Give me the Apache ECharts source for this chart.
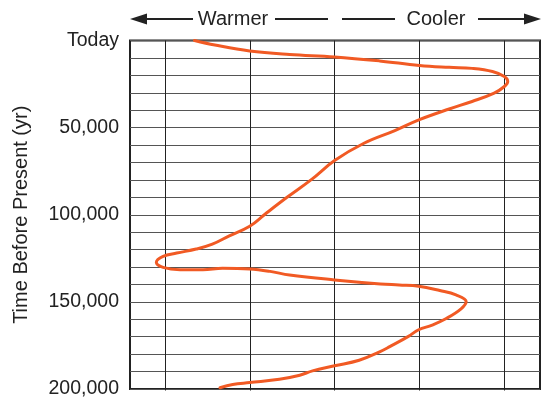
<!DOCTYPE html>
<html>
<head>
<meta charset="utf-8">
<script src="https://cdn.jsdelivr.net/npm/echarts@6/dist/echarts.min.js"></script>
<style>
html,body{margin:0;padding:0;background:#fff;}
#chart{width:543px;height:399px;}
</style>
</head>
<body>
<div id="chart"></div>
<script>
// Relative temperature (grid columns, warmer -> cooler) vs. time before present (yr)
var temperature = [0.35,0.59,1.0,1.47,2.0,2.53,3.0,3.35,3.62,3.86,4.0,4.04,4.0,3.88,3.62,3.35,3.0,2.71,2.34,2.0,1.73,1.44,1.18,1.0,0.76,0.56,0.37,0.14,-0.02,-0.10,-0.02,0.18,0.45,0.68,1.0,1.24,1.47,2.0,2.54,2.76,2.99,3.24,3.43,3.55,3.49,3.31,3.15,2.99,2.87,2.65,2.53,2.29,2.0,1.74,1.59,1.35,1.0,0.8,0.65];
var yearsBP = [0,2600,6000,8000,9400,11700,14300,15400,16000,17800,20700,23500,26400,30200,35000,39300,45400,51700,59100,68900,79700,90000,99700,106600,112100,116900,119700,122000,123900,127300,130200,131500,131500,130700,131100,132500,134600,137400,139700,140300,141000,143500,146000,149800,154000,159700,163300,166000,169800,175700,178700,183500,186700,189600,192100,194400,196300,197400,199300];
var tickValues = [0, 50000, 100000, 150000, 200000];
var tickLabels = ['Today', '50,000', '100,000', '150,000', '200,000'];
var axisTitle = 'Time Before Present (yr)';
var leftLabel = 'Warmer';
var rightLabel = 'Cooler';

var points = temperature.map(function (t, i) { return [t, yearsBP[i]]; });
var chart = echarts.init(document.getElementById('chart'));
var ink = '#222';
var font = 'Liberation Sans, Arial, Helvetica, sans-serif';
chart.setOption({
  animation: false,
  grid: [
    { left: 130, top: 40.5, right: 3, bottom: 8.5, show: true, borderColor: ink, borderWidth: 2, backgroundColor: 'transparent' },
    { left: 165, top: 40.5, right: 39, bottom: 8.5, show: false }
  ],
  xAxis: [
    {
      gridIndex: 0, type: 'value', min: -0.41, max: 4.42,
      axisLabel: { show: false }, axisTick: { show: false }, axisLine: { show: false },
      splitLine: { show: false }
    },
    {
      gridIndex: 1, type: 'value', min: 0, max: 4, interval: 1,
      axisLabel: { show: false }, axisTick: { show: false }, axisLine: { show: false },
      splitLine: { show: true, lineStyle: { color: ink, width: 1 } }
    }
  ],
  yAxis: [
    {
      gridIndex: 0, type: 'value', inverse: true, min: 0, max: 200000, interval: 10000,
      axisLine: { show: false }, axisTick: { show: false },
      splitLine: { show: true, lineStyle: { color: '#555', width: 1 } },
      axisLabel: {
        color: ink, fontFamily: font, fontSize: 19.5, margin: 11,
        formatter: function (v) { var i = tickValues.indexOf(v); return i >= 0 ? tickLabels[i] : ''; }
      },
      name: axisTitle, nameLocation: 'middle', nameRotate: 90, nameGap: 99,
      nameTextStyle: { color: ink, fontFamily: font, fontSize: 20 }
    },
    {
      gridIndex: 1, type: 'value', min: 0, max: 1, show: false, splitLine: { show: false }
    }
  ],
  graphic: [
    { type: 'polygon', shape: { points: [[130,19],[147,13.5],[147,24.5]] }, style: { fill: ink } },
    { type: 'line', shape: { x1: 145, y1: 19, x2: 193, y2: 19 }, style: { stroke: ink, lineWidth: 2 } },
    { type: 'text', x: 233, y: 19, style: { text: leftLabel, fill: ink, font: '20px ' + font, textAlign: 'center', textVerticalAlign: 'middle' } },
    { type: 'line', shape: { x1: 275, y1: 19, x2: 328, y2: 19 }, style: { stroke: ink, lineWidth: 2 } },
    { type: 'line', shape: { x1: 342, y1: 19, x2: 395, y2: 19 }, style: { stroke: ink, lineWidth: 2 } },
    { type: 'text', x: 436, y: 19, style: { text: rightLabel, fill: ink, font: '20px ' + font, textAlign: 'center', textVerticalAlign: 'middle' } },
    { type: 'line', shape: { x1: 478, y1: 19, x2: 526, y2: 19 }, style: { stroke: ink, lineWidth: 2 } },
    { type: 'polygon', shape: { points: [[541,19],[524,13.5],[524,24.5]] }, style: { fill: ink } }
  ],
  series: [{
    type: 'line', xAxisIndex: 0, yAxisIndex: 0, data: points, smooth: 0.4, symbol: 'none', clip: false, z: 5,
    lineStyle: { color: '#F15A24', width: 3, cap: 'round', join: 'round' }
  }]
});
</script>
</body>
</html>
